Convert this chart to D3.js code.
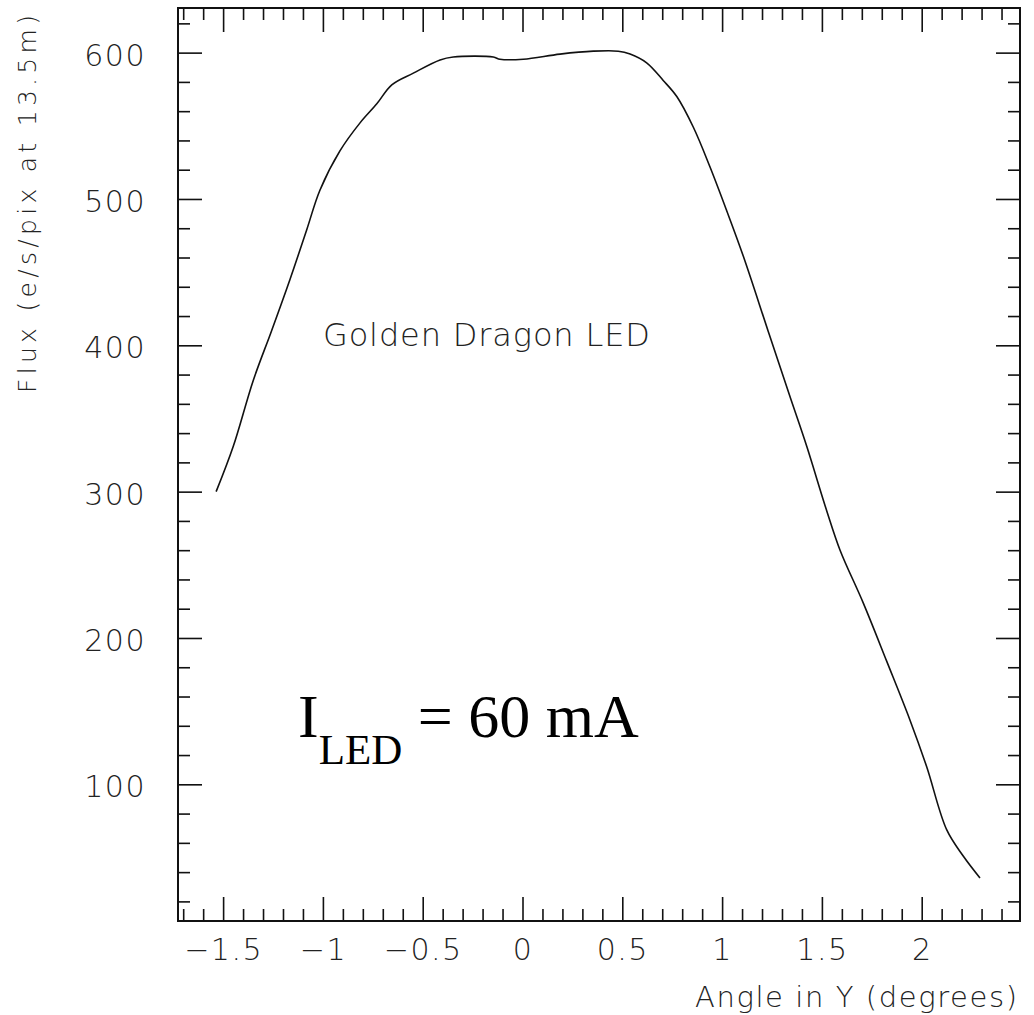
<!DOCTYPE html>
<html>
<head>
<meta charset="utf-8">
<script src="https://cdn.jsdelivr.net/npm/d3@7"></script>
<style>
  html, body { margin: 0; padding: 0; background: #fff; }
  svg { display: block; }
  .tl { font-family: "DejaVu Sans", sans-serif; font-weight: 200; fill: #222; }
</style>
</head>
<body>
<svg id="chart" width="1034" height="1015"></svg>
<script>
// ---- data ----
const angles = [-1.535,-1.449,-1.349,-1.257,-1.165,-1.081,-1.015,-0.914,-0.814,-0.730,-0.655,-0.547,-0.413,-0.347,-0.146,-0.113,0.004,0.188,0.355,0.480,0.539,0.622,0.705,0.773,0.856,0.939,1.023,1.106,1.230,1.340,1.424,1.524,1.591,1.707,1.825,1.941,2.025,2.125,2.208,2.292];
const flux   = [300,331,376,410,445,479,506,533,552,565,578,586,595,597,597,595.5,595.5,599,601,601,599,593,581,570,549,522,492,461,410,365,331,287,260,224,184,144,112,69,51,36];
const xMajorTicks = [-1.5,-1,-0.5,0,0.5,1,1.5,2];
const xMinorTicks = [-1.7,-1.6,-1.4,-1.3,-1.2,-1.1,-0.9,-0.8,-0.7,-0.6,-0.4,-0.3,-0.2,-0.1,0.1,0.2,0.3,0.4,0.6,0.7,0.8,0.9,1.1,1.2,1.3,1.4,1.6,1.7,1.8,1.9,2.1,2.2,2.3,2.4];
const yMajorTicks = [100,200,300,400,500,600];
const yMinorTicks = [20,40,60,80,120,140,160,180,220,240,260,280,320,340,360,380,420,440,460,480,520,540,560,580,620];
const xLabel = "Angle in Y (degrees)";
const yLabel = "Flux (e/s/pix at 13.5m)";
const curveLabel = "Golden Dragon LED";

// ---- layout ----
const L = 178, R = 1020, T = 8, B = 921;
const svg = d3.select("#chart");
const x = d3.scaleLinear().domain([-1.726, 2.4925]).range([L, R]);
const y = d3.scaleLinear().domain([6.6, 630.5]).range([B, T]);
const fmt = d => d3.format("~g")(d);

function styleAxis(g) {
  g.select(".domain").remove();
  g.selectAll("line").attr("stroke", "#111").attr("stroke-width", 1.6);
}

// bottom axis (ticks inward) with labels
const gb = svg.append("g").attr("transform", `translate(0,${B})`)
  .call(d3.axisBottom(x).tickValues(xMajorTicks).tickSize(-24).tickFormat(fmt));
styleAxis(gb);
gb.selectAll("text").attr("class", "tl").attr("y", 39).attr("dy", null)
  .attr("font-size", 30).attr("letter-spacing", 1.5).attr("fill", "#222");
svg.append("g").attr("transform", `translate(0,${B})`)
  .call(d3.axisBottom(x).tickValues(xMinorTicks).tickSize(-12).tickFormat(""))
  .call(styleAxis);
// top axis
svg.append("g").attr("transform", `translate(0,${T})`)
  .call(d3.axisTop(x).tickValues(xMajorTicks).tickSize(-24).tickFormat(""))
  .call(styleAxis);
svg.append("g").attr("transform", `translate(0,${T})`)
  .call(d3.axisTop(x).tickValues(xMinorTicks).tickSize(-12).tickFormat(""))
  .call(styleAxis);
// left axis with labels
const gl = svg.append("g").attr("transform", `translate(${L},0)`)
  .call(d3.axisLeft(y).tickValues(yMajorTicks).tickSize(-24).tickFormat(fmt));
styleAxis(gl);
gl.selectAll("text").attr("class", "tl").attr("x", -32).attr("dy", "0.42em")
  .attr("font-size", 30).attr("letter-spacing", 1.5).attr("fill", "#222");
svg.append("g").attr("transform", `translate(${L},0)`)
  .call(d3.axisLeft(y).tickValues(yMinorTicks).tickSize(-12).tickFormat(""))
  .call(styleAxis);
// right axis
svg.append("g").attr("transform", `translate(${R},0)`)
  .call(d3.axisRight(y).tickValues(yMajorTicks).tickSize(-24).tickFormat(""))
  .call(styleAxis);
svg.append("g").attr("transform", `translate(${R},0)`)
  .call(d3.axisRight(y).tickValues(yMinorTicks).tickSize(-12).tickFormat(""))
  .call(styleAxis);

// frame
svg.append("rect").attr("x", L).attr("y", T).attr("width", R - L).attr("height", B - T)
  .attr("fill", "none").attr("stroke", "#111").attr("stroke-width", 2);

// curve
const pts = angles.map((a, i) => [a, flux[i]]);
svg.append("path").datum(pts)
  .attr("fill", "none").attr("stroke", "#111").attr("stroke-width", 1.6)
  .attr("d", d3.line().x(d => x(d[0])).y(d => y(d[1])).curve(d3.curveCatmullRom.alpha(0.5)));

// axis titles
svg.append("text").attr("class", "tl").attr("x", 1017).attr("y", 1007)
  .attr("text-anchor", "end").attr("font-size", 29).attr("textLength", 322)
  .attr("lengthAdjust", "spacing").text(xLabel);
svg.append("text").attr("class", "tl")
  .attr("transform", "translate(36,204) rotate(-90)")
  .attr("text-anchor", "middle").attr("font-size", 25).attr("textLength", 378)
  .attr("lengthAdjust", "spacing").text(yLabel);

// annotations
svg.append("text").attr("class", "tl").attr("x", 323).attr("y", 346)
  .attr("font-size", 32).attr("textLength", 327).attr("lengthAdjust", "spacing")
  .text(curveLabel);

const ann = svg.append("text").attr("x", 298).attr("y", 737)
  .attr("font-family", "'Liberation Serif', 'Times New Roman', serif")
  .attr("font-size", 62).attr("fill", "#000");
ann.append("tspan").text("I");
ann.append("tspan").attr("font-size", 43).attr("dy", 27).text("LED");
ann.append("tspan").attr("dy", -27).text(" = 60 mA");
</script>
</body>
</html>
